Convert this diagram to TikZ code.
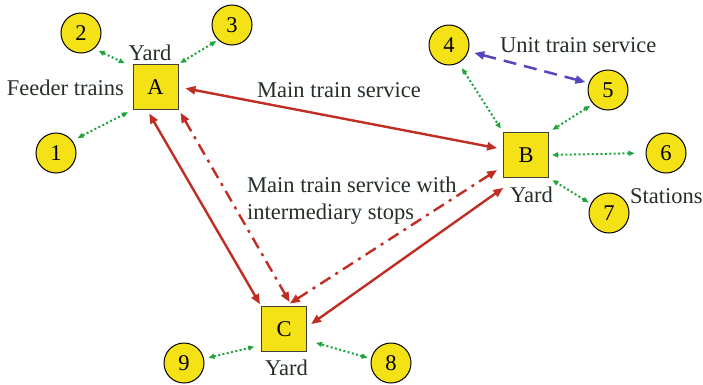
\documentclass[tikz,border=0pt]{standalone}
\usepackage{fontspec}
\setmainfont{Liberation Serif}
\usetikzlibrary{arrows.meta}
\definecolor{yardfill}{RGB}{244,226,22}
\definecolor{routered}{RGB}{192,45,35}
\definecolor{feedgreen}{RGB}{30,165,60}
\definecolor{unitblue}{RGB}{85,70,190}
\definecolor{labelink}{RGB}{36,48,36}
\begin{document}
\begin{tikzpicture}[x=1pt,y=-1pt,
  every node/.style={font=\fontsize{22.5}{27}\selectfont},
  yardbox/.style={draw=black!75,line width=1pt,fill=yardfill,minimum size=45pt,inner sep=0pt},
  stationdot/.style={circle,draw=black,line width=1pt,fill=yardfill,minimum size=40pt,inner sep=0pt},
  caption/.style={text=labelink,inner sep=0pt},
  mainline/.style={draw=routered,line width=2.4pt,{Triangle[length=10pt,width=8pt]}-{Triangle[length=10pt,width=8pt]}},
  stopline/.style={mainline,dash pattern=on 12pt off 6pt on 3pt off 6pt},
  feedline/.style={draw=feedgreen,line width=2pt,dash pattern=on 2pt off 2.4pt,{Triangle[length=6pt,width=5pt]}-{Triangle[length=6pt,width=5pt]}},
  unitline/.style={draw=unitblue,line width=2.5pt,dash pattern=on 13pt off 8pt,{Triangle[length=10pt,width=8pt]}-{Triangle[length=10pt,width=8pt]}}]
\useasboundingbox (0,0) rectangle (703,384);

% yards
\node[yardbox] (A) at (155.5,87) {A};
\node[yardbox] (B) at (526,155) {B};
\node[yardbox] (C) at (284,329) {C};

% stations
\node[stationdot] (s1) at (56,153) {1};
\node[stationdot] (s2) at (81,33) {2};
\node[stationdot] (s3) at (232,25) {3};
\node[stationdot] (s4) at (449,45) {4};
\node[stationdot] (s5) at (608,90) {5};
\node[stationdot] (s6) at (666,153) {6};
\node[stationdot] (s7) at (609,213) {7};
\node[stationdot] (s8) at (391,363) {8};
\node[stationdot] (s9) at (184,363) {9};

% main services between yards
\draw[mainline,shorten <=7pt,shorten >=6pt] (A.east) -- (B.166);
\draw[mainline,shorten <=4pt,shorten >=2pt] (A.-110) -- (C.north west);
\draw[stopline,shorten <=4pt,shorten >=4.5pt] (A.-44) -- (C.71);
\draw[stopline,shorten <=7pt,shorten >=4.5pt] (B.206) -- (C.85);
\draw[mainline,shorten <=17pt,shorten >=5pt] (B.-111) -- (C.5);

% feeder links
\draw[feedline,shorten <=5pt,shorten >=8.7pt] (s2.-50) -- (A.139);
\draw[feedline,shorten <=2pt,shorten >=2pt] (s3.-133) -- (A.north east);
\draw[feedline,shorten <=6pt,shorten >=5pt] (s1.37) -- (A.south west);
\draw[feedline,shorten <=6pt,shorten >=4pt] (s4.-62) -- (B.north west);
\draw[feedline,shorten <=3.5pt,shorten >=4pt] (s5.-137) -- (B.north east);
\draw[feedline,shorten <=11pt,shorten >=3pt] (s6.west) -- (B.east);
\draw[feedline,shorten <=2.4pt,shorten >=4pt] (s7.153) -- (B.south east);
\draw[feedline,shorten <=4.5pt,shorten >=7pt] (s9.12) -- (C.215);
\draw[feedline,shorten <=3.5pt,shorten >=9.4pt] (s8.168) -- (C.-26);

% unit train
\draw[unitline,shorten <=6pt,shorten >=3.4pt] (s4.-18) -- (s5.160);

% captions
\node[caption,anchor=base] (yardA) at (150,60) {Yard};
\node[caption,anchor=base east] (feeder) at (124,95) {Feeder trains};
\node[caption,anchor=base west] (mainsvc) at (257,97) {Main train service};
\node[caption,anchor=base west] (unitsvc) at (500,52) {Unit train service};
\node[caption,anchor=base west] (yardB) at (510,202) {Yard};
\node[caption,anchor=base west] (stations) at (630,203) {Stations};
\node[caption,align=left,anchor=base west] (stopsvc) at (247,219) {Main train service with\\intermediary stops};
\node[caption,anchor=base west] (yardC) at (265,375) {Yard};
\end{tikzpicture}
\end{document}
